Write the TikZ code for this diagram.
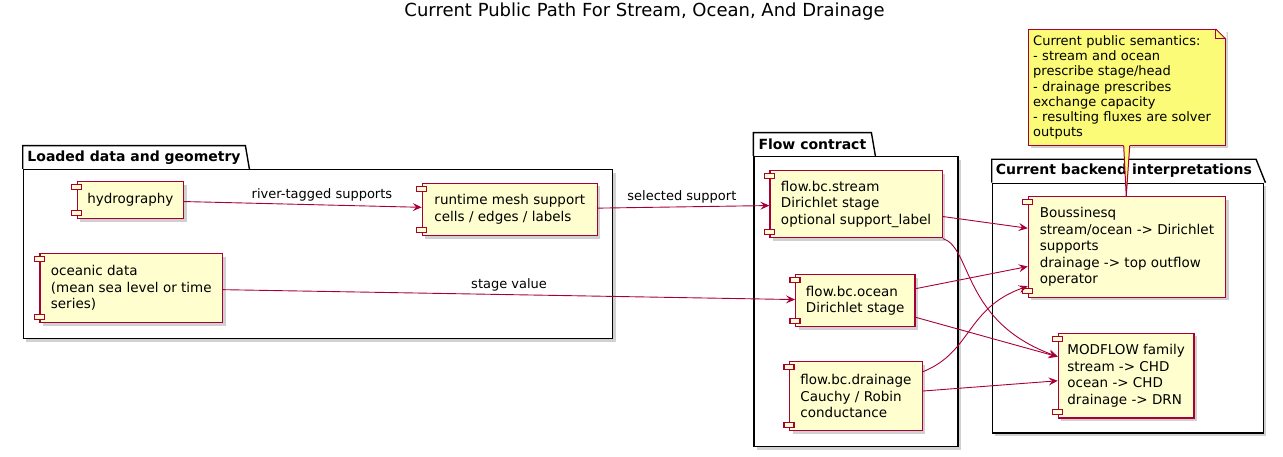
\documentclass[tikz,border=0pt]{standalone}
\usepackage{fontspec}
\setmainfont{DejaVu Sans}
\usetikzlibrary{arrows.meta, positioning, calc, shadows}
\definecolor{umlred}{HTML}{A80036}
\definecolor{umlfill}{HTML}{FEFECE}
\definecolor{notefill}{HTML}{FBFB77}

\begin{document}
\begin{tikzpicture}[x=1pt, y=-1pt,
  comp/.style={draw=umlred, fill=umlfill, line width=1.2pt, anchor=north west,
    align=left, inner xsep=9pt, inner ysep=2pt,
    font=\fontsize{13.5}{16.5}\selectfont,
    drop shadow={shadow xshift=3pt, shadow yshift=-3pt, fill=black!60, opacity=.3}},
  port/.style={draw=umlred, fill=umlfill, line width=1.2pt},
  pkgbody/.style={draw, fill=white, line width=1.4pt, anchor=north west,
    drop shadow={shadow xshift=3pt, shadow yshift=-3pt, fill=black!60, opacity=.3}},
  pkgtab/.style={anchor=south west, minimum height=23, inner xsep=4pt,
    inner ysep=0pt, font=\bfseries\fontsize{14}{16}\selectfont},
  pkgline/.style={line width=1.4pt},
  link/.style={draw=umlred, line width=0.9pt,
    -{Stealth[length=9pt, width=8pt, inset=3.5pt]}},
  lbl/.style={font=\fontsize{13}{15}\selectfont, inner sep=1pt, text=black},
  notebox/.style={draw=umlred, fill=notefill, line width=1pt, anchor=north west,
    align=left, text width=187pt, inner xsep=5pt, font=\fontsize{13}{15.1}\selectfont,
    drop shadow={shadow xshift=3pt, shadow yshift=-3pt, fill=black!60, opacity=.3}},
  >=Stealth
]
  \useasboundingbox (0,0) rectangle (1283,457);

  % Title
  \node[font=\fontsize{18}{20}\selectfont] (title) at (644.5,12)
    {Current Public Path For Stream, Ocean, And Drainage};

  % Packages
  \node[pkgbody, minimum width=589.3, minimum height=169] (loadpkg) at (22.7,169) {};
  \node[pkgtab, minimum width=222.3] (loadtab) at (loadpkg.north west) {Loaded data and geometry};
  \node[pkgbody, minimum width=204, minimum height=290] (flowpkg) at (753.3,156) {};
  \node[pkgtab, minimum width=117.7] (flowtab) at (flowpkg.north west) {Flow contract};
  \node[pkgbody, minimum width=271, minimum height=249.6] (backpkg) at (991.7,182.7) {};
  \node[pkgtab, minimum width=261.3] (backtab) at (backpkg.north west) {Current backend interpretations};
  \foreach \t/\s in {loadtab/4, flowtab/4, backtab/9.4} {
    \draw[pkgline] (\t.south west) -- (\t.north west) -- (\t.north east)
      -- ([xshift=\s pt]\t.south east);
  }

  % Loaded data and geometry
  \node[comp, minimum width=106.5, minimum height=37.3] (hydro) at (76.5,181) {hydrography};
  \node[comp, minimum width=182.7, minimum height=69] (ocdata) at (39.3,253)
    {oceanic data\\(mean sea level or time\\series)};
  \node[comp, minimum width=175, minimum height=52.3] (mesh) at (421.7,182.7)
    {runtime mesh support\\cells / edges / labels};

  % Flow contract
  \node[comp, minimum width=172.4, minimum height=67.3] (stream) at (769.3,170)
    {flow.bc.stream\\Dirichlet stage\\optional support\_label};
  \node[comp, minimum width=119.3, minimum height=52] (ocean) at (795,274)
    {flow.bc.ocean\\Dirichlet stage};
  \node[comp, minimum width=132.7, minimum height=69] (drain) at (789,361)
    {flow.bc.drainage\\Cauchy / Robin\\conductance};

  % Current backend interpretations
  \node[comp, minimum width=197.3, minimum height=100.7] (bouss) at (1027.7,196)
    {Boussinesq\\stream/ocean -> Dirichlet\\supports\\drainage -> top outflow\\operator};
  \node[comp, minimum width=135.6, minimum height=84.6] (modflow) at (1057.7,332.7)
    {MODFLOW family\\stream -> CHD\\ocean -> CHD\\drainage -> DRN};

  % Component ports
  \foreach \c in {hydro, ocdata, mesh, stream, ocean, drain, bouss, modflow} {
    \draw[port] ($(\c.north west)+(-5,3.5)$) rectangle ++(10,5);
    \draw[port] ($(\c.south west)+(-5,-9)$) rectangle ++(10,5);
  }

  % Connections
  \draw[link] (hydro) -- node[lbl, above=2pt, pos=.58] {river-tagged supports} (mesh);
  \draw[link] (mesh) -- node[lbl, above=2pt, pos=.49] {selected support} (stream);
  \draw[link] (ocdata) -- node[lbl, above=2pt, pos=.5] {stage value} (ocean);

  \draw[link] ([yshift=-12.3pt]stream.east) -- ([yshift=18.7pt]bouss.west);
  \draw[link] (stream.south east) .. controls (972,248) and (962,322)
    .. ([yshift=19pt]modflow.west);
  \draw[link] (ocean) -- (bouss);
  \draw[link] (ocean) -- (modflow);
  \draw[link] ([yshift=-10.7pt]drain.north east) .. controls (972,352) and (966,308)
    .. ([yshift=11.7pt]bouss.south west);
  \draw[link] (drain) -- (modflow);

  % Note
  \node[notebox, minimum height=116] (semnote) at (1027.7,29)
    {Current public semantics:\\- stream and ocean\\prescribe stage/head\\%
     - drainage prescribes\\exchange capacity\\- resulting fluxes are solver\\outputs};
  \fill[notefill] ([xshift=-3pt, yshift=1pt]semnote.south) -- ([xshift=-0.7pt]bouss.north)
    -- ([xshift=3pt, yshift=1pt]semnote.south) -- cycle;
  \draw[umlred, line width=1pt] ([xshift=-3pt]semnote.south) -- ([xshift=-0.7pt]bouss.north)
    -- ([xshift=3pt]semnote.south);
  \fill[white] ([xshift=-10pt, yshift=1pt]semnote.north east) -- ([xshift=1pt, yshift=1pt]semnote.north east)
    -- ([xshift=1pt, yshift=-10pt]semnote.north east) -- cycle;
  \draw[umlred, line width=1pt] ([xshift=-10pt]semnote.north east) -- ([yshift=-10pt]semnote.north east);
  \draw[umlred, line width=1pt] ([xshift=-10pt]semnote.north east) |- ([yshift=-10pt]semnote.north east);
\end{tikzpicture}
\end{document}
